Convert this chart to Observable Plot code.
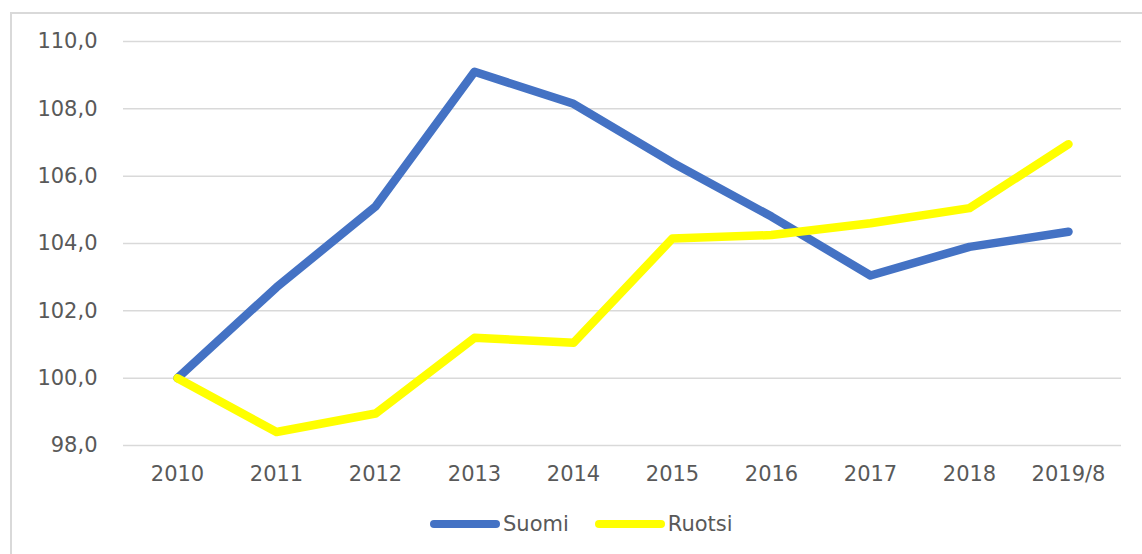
<!DOCTYPE html>
<html>
<head>
<meta charset="utf-8">
<script src="https://cdn.jsdelivr.net/npm/d3@7"></script>
<script src="https://cdn.jsdelivr.net/npm/@observablehq/plot@0.6"></script>
<style>
  html, body { margin: 0; padding: 0; background: #fff; }
  body { width: 1142px; height: 554px; position: relative; overflow: hidden; font-family: "DejaVu Sans", sans-serif; }
  #frame { position: absolute; left: 10px; top: 12px; width: 1140px; height: 560px; border-left: 2px solid #d9d9d9; border-top: 2px solid #d9d9d9; box-sizing: border-box; }
  #chart { position: absolute; left: 0; top: 0; }
  #legend { position: absolute; left: 430px; top: 509px; height: 30px; display: flex; align-items: center; font-size: 21px; color: #595959; }
  .item { display: flex; align-items: center; margin-right: 26px; }
  .swatch { width: 70px; height: 8px; border-radius: 4px; margin-right: 3px; }
</style>
</head>
<body>
<div id="frame"></div>
<div id="chart"></div>
<div id="legend"></div>
<script>
const years = ["2010","2011","2012","2013","2014","2015","2016","2017","2018","2019/8"];
const suomi = [100.0, 102.7, 105.1, 109.1, 108.15, 106.4, 104.8, 103.05, 103.9, 104.35];
const ruotsi = [100.0, 98.4, 98.95, 101.2, 101.05, 104.15, 104.25, 104.6, 105.05, 106.95];
const seriesNames = ["Suomi", "Ruotsi"];
const seriesColors = ["#4472C4", "#FFFF00"];
const yTicks = [98, 100, 102, 104, 106, 108, 110];

const data = [];
years.forEach((y, i) => {
  data.push({year: y, value: suomi[i], series: seriesNames[0]});
  data.push({year: y, value: ruotsi[i], series: seriesNames[1]});
});

const fmt = d => d.toFixed(1).replace(".", ",");

const chart = Plot.plot({
  width: 1142,
  height: 490,
  marginTop: 41,
  marginBottom: 45,
  marginLeft: 123,
  marginRight: 21,
  style: { fontFamily: "'DejaVu Sans', sans-serif", fontSize: "21px", color: "#595959", background: "transparent" },
  x: { type: "point", domain: years, padding: 0.5, label: null },
  y: { domain: [98, 110], label: null },
  color: { domain: seriesNames, range: seriesColors },
  marks: [
    Plot.gridY(yTicks, { stroke: "#d9d9d9", strokeOpacity: 1, strokeWidth: 1.5 }),
    Plot.axisY(yTicks, { tickSize: 0, tickPadding: 26, tickFormat: fmt, label: null, fill: "#595959" }),
    Plot.axisX({ tickSize: 0, tickPadding: 21, label: null, fill: "#595959" }),
    Plot.line(data, { x: "year", y: "value", z: "series", stroke: "series", strokeWidth: 8.5, strokeLinejoin: "round", strokeLinecap: "round" })
  ]
});
document.getElementById("chart").appendChild(chart);

const legend = document.getElementById("legend");
seriesNames.forEach((n, i) => {
  const item = document.createElement("div");
  item.className = "item";
  const sw = document.createElement("div");
  sw.className = "swatch";
  sw.style.background = seriesColors[i];
  const t = document.createElement("span");
  t.textContent = n;
  item.appendChild(sw);
  item.appendChild(t);
  legend.appendChild(item);
});
</script>
</body>
</html>
